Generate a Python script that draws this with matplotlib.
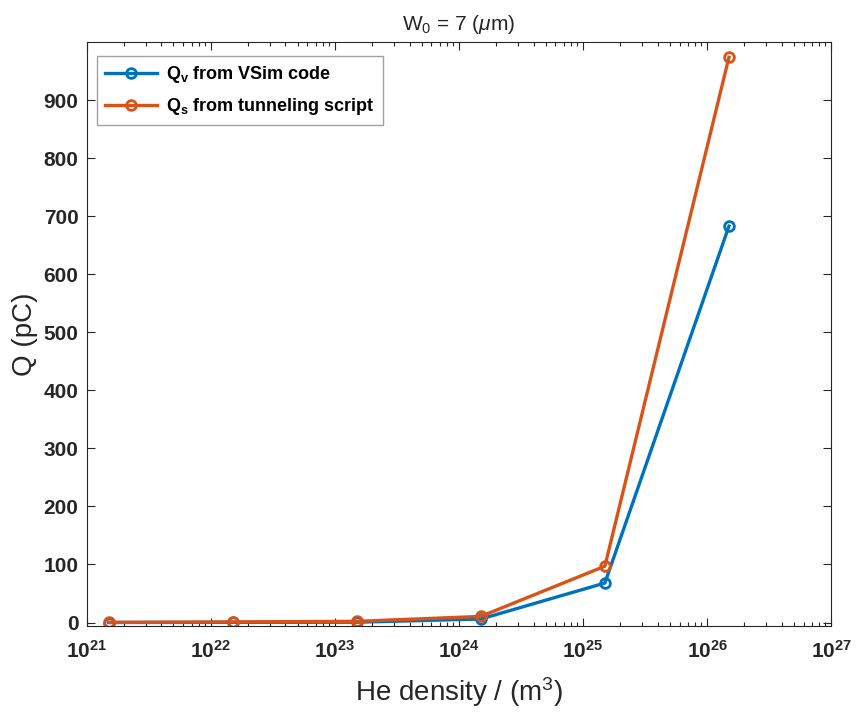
import numpy as np
import matplotlib
matplotlib.use("Agg")
import matplotlib.pyplot as plt
from matplotlib.ticker import LogLocator, NullFormatter

plt.rcParams['font.family'] = ['Liberation Sans', 'DejaVu Sans']
plt.rcParams['mathtext.fontset'] = 'custom'
plt.rcParams['mathtext.rm'] = 'Liberation Sans'
plt.rcParams['mathtext.it'] = 'Liberation Sans:italic'
plt.rcParams['mathtext.bf'] = 'Liberation Sans:bold'

# He density (m^-3) and collected charge (pC)
density = [1.5e21, 1.5e22, 1.5e23, 1.5e24, 1.5e25, 1.5e26]
q_vsim = [0.0, 0.3, 0.5, 6.0, 68.0, 683.0]
q_tunnel = [0.2, 1.0, 2.0, 10.5, 97.0, 974.0]

label_vsim = r"$\mathbf{Q_v}$ from VSim code"
label_tunnel = r"$\mathbf{Q_s}$ from tunneling script"

blue = "#0072BD"
orange = "#D95319"
ink = "#262626"

fig = plt.figure(figsize=(8.56, 7.15), dpi=100)
ax = fig.add_axes([0.1013, 0.1245, 0.8697, 0.8165])

ax.plot(density, q_vsim, color=blue, lw=2.4, marker='o', ms=7,
        mfc='none', mew=2.0, label=label_vsim)
ax.plot(density, q_tunnel, color=orange, lw=2.4, marker='o', ms=7,
        mfc='none', mew=2.0, label=label_tunnel)

ax.set_xscale('log')
ax.set_xlim(1e21, 1e27)
ax.set_ylim(-6, 1000)
ax.set_yticks(np.arange(0, 1000, 100))
ax.xaxis.set_major_locator(LogLocator(base=10, numticks=20))
ax.xaxis.set_minor_locator(LogLocator(base=10, subs=np.arange(2, 10), numticks=20))
ax.xaxis.set_minor_formatter(NullFormatter())

ax.tick_params(axis='both', which='both', direction='in', top=True, right=True,
               labelsize=15, colors=ink)
ax.tick_params(axis='x', which='major', pad=10)
ax.tick_params(axis='y', which='major', pad=6)
ax.tick_params(which='major', length=6, width=0.8)
ax.tick_params(which='minor', length=3, width=0.8)
for lab in ax.get_xticklabels() + ax.get_yticklabels():
    lab.set_fontweight('bold')
for s in ax.spines.values():
    s.set_color(ink)
    s.set_linewidth(0.8)

ax.set_title(r"W$_0$ = 7 ($\mu$m)", fontsize=15, pad=9, color=ink)
ax.set_xlabel(r"He density / (m$^3$)", fontsize=20, color=ink, labelpad=10)
ax.set_ylabel("Q (pC)", fontsize=20, color=ink, labelpad=4)

leg = ax.legend(loc='upper left', prop={'weight': 'bold', 'size': 13},
                frameon=True, fancybox=False, edgecolor='#a0a0a0',
                borderpad=0.45, handlelength=2.9, labelspacing=0.6,
                handletextpad=0.5, borderaxespad=0,
                bbox_to_anchor=(0.0134, 0.976))
leg.get_frame().set_linewidth(1.0)
leg.get_frame().set_alpha(1.0)

fig.savefig("out.png", dpi=100, facecolor='white')
